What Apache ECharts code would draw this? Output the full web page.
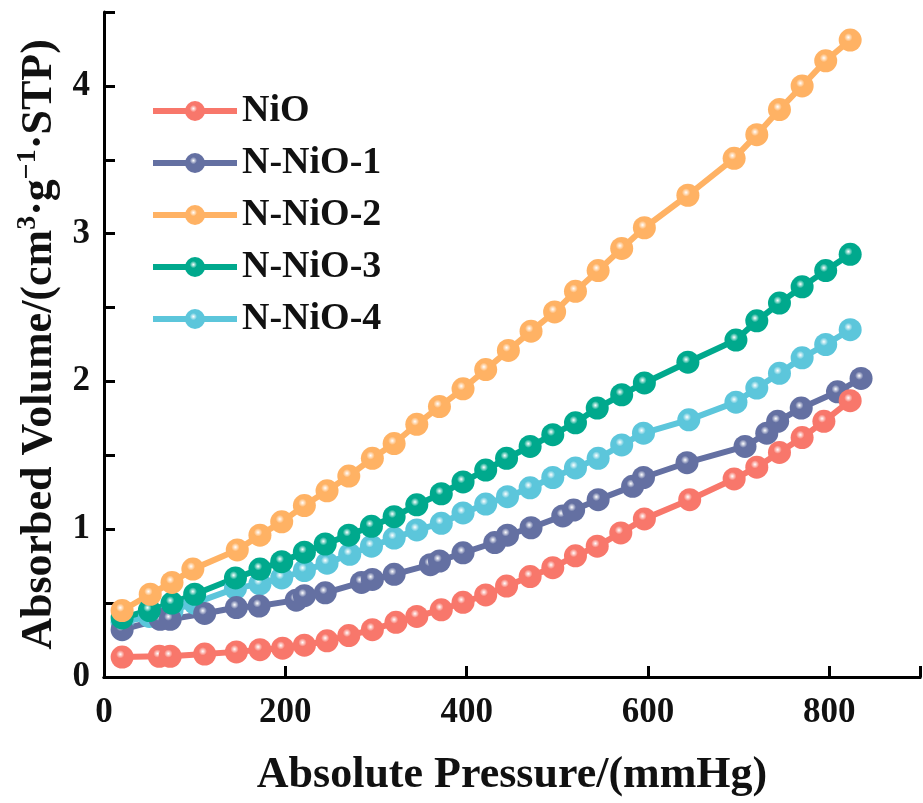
<!DOCTYPE html>
<html>
<head>
<meta charset="utf-8">
<script src="https://cdn.jsdelivr.net/npm/echarts@6/dist/echarts.min.js"></script>
<style>html,body{margin:0;padding:0;background:#fff}#c{width:923px;height:803px}</style>
</head>
<body>
<div id="c"></div>
<script>
const seriesNames = ['NiO', 'N-NiO-1', 'N-NiO-2', 'N-NiO-3', 'N-NiO-4'];
const xTicks = [0, 200, 400, 600, 800];
const yTicks = [0, 1, 2, 3, 4];

const dataNiO = [[20,0.135],[61,0.14],[73,0.14],[111,0.155],[146,0.17],[172,0.185],[197,0.195],[221,0.215],[246,0.245],[270,0.28],[296,0.32],[322,0.37],[345,0.41],[372,0.455],[396,0.505],[421,0.555],[444,0.615],[470,0.68],[495,0.74],[520,0.82],[544,0.885],[570,0.975],[596,1.07],[646,1.2],[695,1.34],[720,1.42],[745,1.52],[770,1.62],[794,1.73],[823,1.87]];
const dataN1 = [[20,0.32],[62,0.39],[73,0.39],[111,0.43],[146,0.47],[171,0.48],[212,0.52],[221,0.55],[244,0.57],[284,0.64],[296,0.66],[320,0.695],[360,0.76],[370,0.785],[396,0.84],[431,0.91],[445,0.96],[471,1.01],[506,1.09],[518,1.13],[545,1.2],[583,1.29],[595,1.35],[643,1.45],[707,1.56],[731,1.65],[743,1.73],[769,1.82],[809,1.93],[835,2.02]];
const dataN2 = [[20,0.45],[51,0.56],[75,0.64],[98,0.73],[147,0.86],[172,0.96],[196,1.05],[221,1.16],[246,1.26],[270,1.36],[296,1.48],[320,1.58],[345,1.71],[370,1.83],[396,1.95],[421,2.08],[446,2.21],[471,2.34],[497,2.47],[520,2.61],[545,2.75],[571,2.9],[596,3.04],[644,3.26],[695,3.51],[720,3.67],[745,3.84],[770,4.0],[796,4.17],[823,4.31]];
const dataN3 = [[20,0.4],[50,0.45],[75,0.5],[100,0.56],[145,0.67],[172,0.73],[196,0.78],[221,0.845],[244,0.9],[270,0.96],[295,1.02],[320,1.085],[345,1.165],[372,1.24],[396,1.32],[421,1.4],[444,1.48],[470,1.56],[495,1.64],[520,1.72],[544,1.82],[571,1.91],[596,1.99],[644,2.13],[697,2.28],[720,2.41],[745,2.53],[770,2.64],[796,2.75],[823,2.86]];
const dataN4 = [[20,0.37],[50,0.41],[75,0.45],[100,0.5],[145,0.6],[172,0.63],[196,0.67],[221,0.72],[246,0.77],[271,0.83],[295,0.885],[320,0.94],[345,0.995],[372,1.04],[396,1.11],[421,1.17],[445,1.22],[470,1.28],[495,1.35],[520,1.415],[545,1.48],[571,1.57],[595,1.65],[645,1.74],[697,1.86],[720,1.955],[745,2.055],[770,2.16],[796,2.25],[823,2.35]];

const colors = {'NiO':'#F8776B','N-NiO-1':'#6470A2','N-NiO-2':'#FFB264','N-NiO-3':'#00A98D','N-NiO-4':'#5CC6DB'};
const FONT = "'Liberation Serif','Times New Roman',serif";

function glossy(c){
  return {type:'radial', x:0.42, y:0.38, r:0.6, colorStops:[
    {offset:0, color:'#ffffff'},{offset:0.3, color:c},{offset:1, color:c}]};
}
function mk(name, data){
  return {
    name, type:'line', data, symbol:'circle', symbolSize:23,
    lineStyle:{color:colors[name], width:6},
    itemStyle:{color:glossy(colors[name]), borderWidth:0},
    emphasis:{disabled:true}, animation:false
  };
}

const chart = echarts.init(document.getElementById('c'), null, {renderer:'canvas'});
chart.setOption({
  backgroundColor:'#fff',
  animation:false,
  grid:{left:104, top:12, right:-14, bottom:125, containLabel:false},
  legend:{
    data: seriesNames, orient:'vertical', left:145, top:87,
    itemWidth:84, itemHeight:25, itemGap:14,
    lineStyle:{width:6},
    textStyle:{fontFamily:FONT, fontWeight:'bold', fontSize:38, lineHeight:37, color:'#111'},
    selectedMode:false
  },
  xAxis:[{
    type:'value', min:0, max:900, interval:200, position:'bottom',
    name:'Absolute Pressure/(mmHg)', nameLocation:'middle', nameGap:77,
    nameTextStyle:{fontFamily:FONT, fontWeight:'bold', fontSize:44, color:'#111'},
    axisLine:{show:true, onZero:false, lineStyle:{color:'#000', width:3}},
    axisTick:{show:true, inside:true, length:11, lineStyle:{width:3, color:'#000'}},
    axisLabel:{fontFamily:FONT, fontWeight:'bold', fontSize:35, color:'#111', margin:18,
      formatter:v => xTicks.indexOf(v) >= 0 ? String(v) : ''},
    splitLine:{show:false}
  },{
    type:'value', min:0, max:900, position:'top',
    axisLine:{show:true, lineStyle:{color:'#000', width:3}},
    axisTick:{show:false}, axisLabel:{show:false}, splitLine:{show:false}
  }],
  yAxis:{
    type:'value', min:0, max:4.5, interval:0.5,
    name:'{n|Absorbed Volume/(cm}{s|3}{n|·g}{s|−1}{n|·STP)}',
    nameLocation:'middle', nameGap:42, nameRotate:90,
    nameTextStyle:{fontFamily:FONT, fontWeight:'bold', fontSize:44, color:'#111',
      rich:{
        n:{fontFamily:FONT, fontWeight:'bold', fontSize:44, color:'#111', lineHeight:48, verticalAlign:'bottom'},
        s:{fontFamily:FONT, fontWeight:'bold', fontSize:28, color:'#111', lineHeight:48, verticalAlign:'top', padding:[0,0,20,0]}
      }},
    axisLine:{show:true, onZero:false, lineStyle:{color:'#000', width:3}},
    axisTick:{show:true, inside:true, length:11, lineStyle:{width:3, color:'#000'}},
    axisLabel:{fontFamily:FONT, fontWeight:'bold', fontSize:35, color:'#111', margin:14,
      formatter:v => yTicks.indexOf(v) >= 0 ? String(v) : ''},
    splitLine:{show:false}
  },
  series:[
    mk('N-NiO-4', dataN4),
    mk('N-NiO-1', dataN1),
    mk('N-NiO-3', dataN3),
    mk('NiO', dataNiO),
    mk('N-NiO-2', dataN2)
  ]
});
</script>
</body>
</html>
